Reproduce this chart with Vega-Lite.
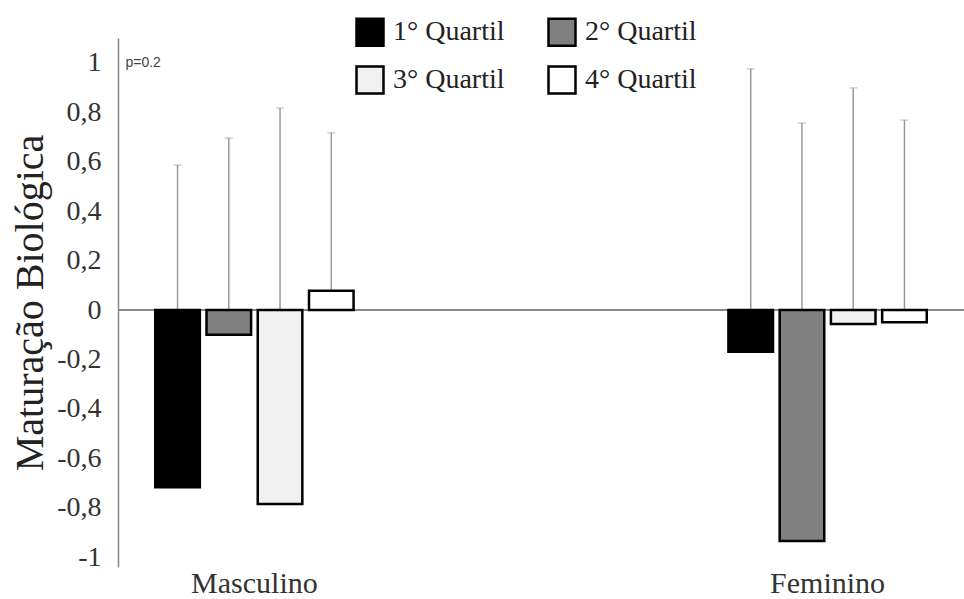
{
  "$schema": "https://vega.github.io/schema/vega-lite/v6.json",
  "width": 846,
  "height": 529,
  "autosize": {"type": "none"},
  "padding": {"left": 118, "top": 38, "right": 0, "bottom": 32},
  "background": "white",
  "config": {
    "view": {"stroke": null},
    "font": "Liberation Serif"
  },
  "data": {
    "values": [
      {"grupo": "Masculino", "quartil": "1° Quartil", "media": -0.717, "superior": 0.587},
      {"grupo": "Masculino", "quartil": "2° Quartil", "media": -0.10, "superior": 0.696},
      {"grupo": "Masculino", "quartil": "3° Quartil", "media": -0.785, "superior": 0.818},
      {"grupo": "Masculino", "quartil": "4° Quartil", "media": 0.078, "superior": 0.717},
      {"grupo": "Feminino", "quartil": "1° Quartil", "media": -0.169, "superior": 0.976},
      {"grupo": "Feminino", "quartil": "2° Quartil", "media": -0.935, "superior": 0.757},
      {"grupo": "Feminino", "quartil": "3° Quartil", "media": -0.057, "superior": 0.899},
      {"grupo": "Feminino", "quartil": "4° Quartil", "media": -0.049, "superior": 0.769}
    ]
  },
  "encoding": {
    "x": {
      "field": "grupo",
      "type": "nominal",
      "sort": ["Masculino", "Feminino"],
      "scale": {"paddingInner": 0.654, "paddingOuter": 0.065},
      "axis": {
        "title": null,
        "labelAngle": 0,
        "labelFont": "Liberation Serif",
        "labelFontSize": 30,
        "labelColor": "#333333",
        "labelBaseline": "alphabetic",
        "labelPadding": 25,
        "domain": false,
        "ticks": false
      }
    },
    "xOffset": {
      "field": "quartil",
      "type": "nominal",
      "sort": ["1° Quartil", "2° Quartil", "3° Quartil", "4° Quartil"],
      "scale": {"paddingInner": 0.13, "paddingOuter": 0}
    }
  },
  "layer": [
    {
      "mark": {"type": "rule", "color": "#888888", "strokeWidth": 2},
      "encoding": {"y": {"datum": 0, "type": "quantitative"}, "x": null, "xOffset": null}
    },
    {
      "mark": {"type": "rule", "color": "#999999", "strokeWidth": 1.5},
      "encoding": {
        "y": {"field": "superior", "type": "quantitative"},
        "y2": {"datum": 0}
      }
    },
    {
      "mark": {"type": "tick", "color": "#999999", "thickness": 1, "size": 8},
      "encoding": {
        "y": {"field": "superior", "type": "quantitative"}
      }
    },
    {
      "mark": {"type": "bar", "stroke": "black", "strokeWidth": 2.5},
      "encoding": {
        "y": {
          "field": "media",
          "type": "quantitative",
          "scale": {"domain": [-1.04, 1.101], "nice": false, "zero": false},
          "axis": {
            "title": "Maturação Biológica",
            "titleFont": "Liberation Serif",
            "titleFontSize": 40,
            "titleFontWeight": "normal",
            "titleColor": "#222222",
            "titlePadding": 6,
            "values": [-1, -0.8, -0.6, -0.4, -0.2, 0, 0.2, 0.4, 0.6, 0.8, 1],
            "labelExpr": "(datum.value < 0 ? '-' : '') + (abs(datum.value) > 0.99 ? '1' : (abs(datum.value) < 0.01 ? '0' : replace(format(abs(datum.value), '.1f'), '.', ',')))",
            "labelFont": "Liberation Serif",
            "labelFontSize": 28,
            "labelColor": "#333333",
            "labelPadding": 17,
            "ticks": false,
            "grid": false,
            "domainColor": "#888888",
            "domainWidth": 1.5
          }
        },
        "y2": {"datum": 0},
        "fill": {
          "field": "quartil",
          "type": "nominal",
          "scale": {
            "domain": ["1° Quartil", "2° Quartil", "3° Quartil", "4° Quartil"],
            "range": ["#000000", "#808080", "#f0f0f0", "#ffffff"]
          },
          "legend": {
            "title": null,
            "orient": "none",
            "legendX": 237,
            "legendY": -21,
            "columns": 2,
            "values": ["1° Quartil", "3° Quartil", "2° Quartil", "4° Quartil"],
            "symbolType": "square",
            "symbolSize": 729,
            "symbolStrokeColor": "black",
            "symbolStrokeWidth": 2.5,
            "symbolOpacity": 1,
            "labelFont": "Liberation Serif",
            "labelFontSize": 28,
            "labelColor": "#222222",
            "labelOffset": 8,
            "rowPadding": 10,
            "columnPadding": 38,
            "labelLimit": 300
          }
        }
      }
    },
    {
      "data": {"values": [{"nota": "p=0.2"}]},
      "mark": {"type": "text", "align": "left", "baseline": "middle", "dx": -129, "font": "Liberation Sans", "fontSize": 14, "color": "#444444"},
      "encoding": {
        "x": {"datum": "Masculino"},
        "xOffset": null,
        "y": {"datum": 1.0},
        "text": {"field": "nota"}
      }
    }
  ]
}
